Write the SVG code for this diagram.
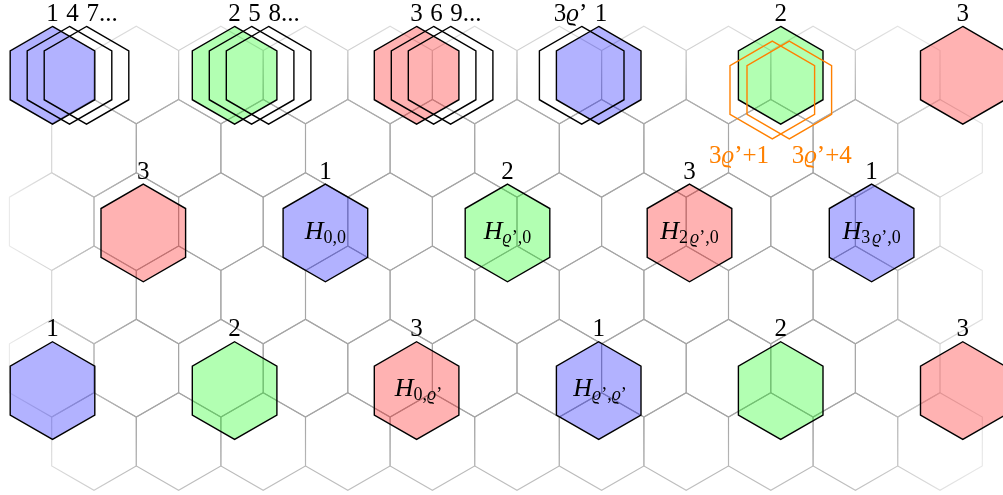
<svg xmlns="http://www.w3.org/2000/svg" xmlns:xlink="http://www.w3.org/1999/xlink" width="1003" height="495" viewBox="0 0 1003 495">
<style>
.grid{fill:none;stroke:#a6a6a6;stroke-width:1.1}
.hb{fill:#0000ff;fill-opacity:0.3;stroke:#000;stroke-width:1.4}
.hg{fill:#00ff00;fill-opacity:0.3;stroke:#000;stroke-width:1.4}
.hr{fill:#ff0000;fill-opacity:0.3;stroke:#000;stroke-width:1.4}
.ho{fill:none;stroke:#000;stroke-width:1.4}
.hor{fill:none;stroke:#ff8000;stroke-width:1.4}
text{font-family:"Liberation Serif","DejaVu Serif",serif;fill:#000}
.lbl{font-size:25px;text-anchor:middle}
.lst{font-size:25px;word-spacing:1.3px}
.org{font-size:25px;text-anchor:middle;fill:#ff8000}
.h{font-size:26px;text-anchor:middle}
.sub{font-size:18px}
.i{font-style:italic}
</style>
<defs>
<polygon id="hx" points="0,-48.85 42.3,-24.43 42.3,24.43 0,48.85 -42.3,24.43 -42.3,-24.43"/>
<linearGradient id="gH" gradientUnits="userSpaceOnUse" x1="0" y1="0" x2="1003" y2="0">
<stop offset="0" stop-color="#fff" stop-opacity="0.15"/>
<stop offset="0.01" stop-color="#fff" stop-opacity="0.25"/>
<stop offset="0.0518" stop-color="#fff" stop-opacity="0.5"/>
<stop offset="0.0937" stop-color="#fff" stop-opacity="0.8"/>
<stop offset="0.1396" stop-color="#fff" stop-opacity="1"/>
<stop offset="0.8495" stop-color="#fff" stop-opacity="1"/>
<stop offset="0.8953" stop-color="#fff" stop-opacity="0.75"/>
<stop offset="0.9372" stop-color="#fff" stop-opacity="0.5"/>
<stop offset="0.979" stop-color="#fff" stop-opacity="0.33"/>
<stop offset="1" stop-color="#fff" stop-opacity="0.25"/>
</linearGradient>
<linearGradient id="gV" gradientUnits="userSpaceOnUse" x1="0" y1="0" x2="0" y2="495">
<stop offset="0" stop-color="#fff" stop-opacity="0.3"/>
<stop offset="0.0545" stop-color="#fff" stop-opacity="0.4"/>
<stop offset="0.103" stop-color="#fff" stop-opacity="0.55"/>
<stop offset="0.202" stop-color="#fff" stop-opacity="0.9"/>
<stop offset="0.283" stop-color="#fff" stop-opacity="1"/>
<stop offset="0.848" stop-color="#fff" stop-opacity="1"/>
<stop offset="0.99" stop-color="#fff" stop-opacity="0.7"/>
<stop offset="1" stop-color="#fff" stop-opacity="0.7"/>
</linearGradient>
<mask id="mH" maskUnits="userSpaceOnUse" x="0" y="0" width="1003" height="495"><rect width="1003" height="495" fill="url(#gH)"/></mask>
<mask id="mV" maskUnits="userSpaceOnUse" x="0" y="0" width="1003" height="495"><rect width="1003" height="495" fill="url(#gV)"/></mask>
</defs>

<g id="grid" mask="url(#mV)"><g mask="url(#mH)" class="grid">
<use href="#hx" x="51.7" y="75"/><use href="#hx" x="136.3" y="75"/><use href="#hx" x="220.9" y="75"/><use href="#hx" x="305.5" y="75"/><use href="#hx" x="390.1" y="75"/><use href="#hx" x="474.7" y="75"/><use href="#hx" x="559.3" y="75"/><use href="#hx" x="643.9" y="75"/><use href="#hx" x="728.5" y="75"/><use href="#hx" x="813.1" y="75"/><use href="#hx" x="897.7" y="75"/>
<use href="#hx" x="94" y="148.3"/><use href="#hx" x="178.6" y="148.3"/><use href="#hx" x="263.2" y="148.3"/><use href="#hx" x="347.8" y="148.3"/><use href="#hx" x="432.4" y="148.3"/><use href="#hx" x="517" y="148.3"/><use href="#hx" x="601.6" y="148.3"/><use href="#hx" x="686.2" y="148.3"/><use href="#hx" x="770.8" y="148.3"/><use href="#hx" x="855.4" y="148.3"/><use href="#hx" x="940" y="148.3"/>
<use href="#hx" x="51.7" y="221.6"/><use href="#hx" x="136.3" y="221.6"/><use href="#hx" x="220.9" y="221.6"/><use href="#hx" x="305.5" y="221.6"/><use href="#hx" x="390.1" y="221.6"/><use href="#hx" x="474.7" y="221.6"/><use href="#hx" x="559.3" y="221.6"/><use href="#hx" x="643.9" y="221.6"/><use href="#hx" x="728.5" y="221.6"/><use href="#hx" x="813.1" y="221.6"/><use href="#hx" x="897.7" y="221.6"/>
<use href="#hx" x="94" y="294.9"/><use href="#hx" x="178.6" y="294.9"/><use href="#hx" x="263.2" y="294.9"/><use href="#hx" x="347.8" y="294.9"/><use href="#hx" x="432.4" y="294.9"/><use href="#hx" x="517" y="294.9"/><use href="#hx" x="601.6" y="294.9"/><use href="#hx" x="686.2" y="294.9"/><use href="#hx" x="770.8" y="294.9"/><use href="#hx" x="855.4" y="294.9"/><use href="#hx" x="940" y="294.9"/>
<use href="#hx" x="51.7" y="368.2"/><use href="#hx" x="136.3" y="368.2"/><use href="#hx" x="220.9" y="368.2"/><use href="#hx" x="305.5" y="368.2"/><use href="#hx" x="390.1" y="368.2"/><use href="#hx" x="474.7" y="368.2"/><use href="#hx" x="559.3" y="368.2"/><use href="#hx" x="643.9" y="368.2"/><use href="#hx" x="728.5" y="368.2"/><use href="#hx" x="813.1" y="368.2"/><use href="#hx" x="897.7" y="368.2"/>
<use href="#hx" x="94" y="441.5"/><use href="#hx" x="178.6" y="441.5"/><use href="#hx" x="263.2" y="441.5"/><use href="#hx" x="347.8" y="441.5"/><use href="#hx" x="432.4" y="441.5"/><use href="#hx" x="517" y="441.5"/><use href="#hx" x="601.6" y="441.5"/><use href="#hx" x="686.2" y="441.5"/><use href="#hx" x="770.8" y="441.5"/><use href="#hx" x="855.4" y="441.5"/><use href="#hx" x="940" y="441.5"/>
</g></g>

<g id="connectors"></g>

<!-- Row A -->
<g id="a1"><use href="#hx" class="hb" x="52.5" y="75.3"/><use href="#hx" class="ho" x="69.5" y="75.3"/><use href="#hx" class="ho" x="86.5" y="75.3"/><text class="lst" x="46.3" y="21">1 4 7...</text></g>
<g id="a2"><use href="#hx" class="hg" x="234.6" y="75.3"/><use href="#hx" class="ho" x="251.6" y="75.3"/><use href="#hx" class="ho" x="268.6" y="75.3"/><text class="lst" x="228.3" y="21">2 5 8...</text></g>
<g id="a3"><use href="#hx" class="hr" x="416.6" y="75.3"/><use href="#hx" class="ho" x="433.6" y="75.3"/><use href="#hx" class="ho" x="450.6" y="75.3"/><text class="lst" x="410.2" y="21">3 6 9...</text></g>
<g id="a4"><use href="#hx" class="hb" x="598.7" y="75.3"/><use href="#hx" class="ho" x="581.7" y="75.3"/><text class="lbl" x="570.5" y="21">3<tspan class="i">ϱ</tspan>’</text><text class="lbl" x="601" y="21">1</text></g>
<g id="a5"><use href="#hx" class="hg" x="780.7" y="75.3"/><use href="#hx" class="hor" x="772.3" y="90"/><use href="#hx" class="hor" x="789.3" y="90"/><text class="lbl" x="780.7" y="21">2</text><text class="org" x="739" y="163">3<tspan class="i">ϱ</tspan>’+1</text><text class="org" x="821.7" y="163">3<tspan class="i">ϱ</tspan>’+4</text></g>
<g id="a6"><use href="#hx" class="hr" x="962.8" y="75.3"/><text class="lbl" x="962.8" y="21">3</text></g>

<!-- Row B -->
<g id="b1"><use href="#hx" class="hr" x="143.3" y="232.95"/><text class="lbl" x="143.3" y="178.5">3</text></g>
<g id="b2"><use href="#hx" class="hb" x="325.4" y="232.95"/><text class="lbl" x="325.4" y="178.5">1</text><text class="h" x="325.4" y="239.3"><tspan class="i">H</tspan><tspan class="sub" dy="4">0,0</tspan></text></g>
<g id="b3"><use href="#hx" class="hg" x="507.5" y="232.95"/><text class="lbl" x="507.5" y="178.5">2</text><text class="h" x="507.5" y="239.3"><tspan class="i">H</tspan><tspan class="sub" dy="4"><tspan class="i">ϱ</tspan>’,0</tspan></text></g>
<g id="b4"><use href="#hx" class="hr" x="689.5" y="232.95"/><text class="lbl" x="689.5" y="178.5">3</text><text class="h" x="689.5" y="239.3"><tspan class="i">H</tspan><tspan class="sub" dy="4">2<tspan class="i" dx="2">ϱ</tspan>’,0</tspan></text></g>
<g id="b5"><use href="#hx" class="hb" x="871.6" y="232.95"/><text class="lbl" x="871.6" y="178.5">1</text><text class="h" x="871.6" y="239.3"><tspan class="i">H</tspan><tspan class="sub" dy="4">3<tspan class="i" dx="2">ϱ</tspan>’,0</tspan></text></g>

<!-- Row C -->
<g id="c1"><use href="#hx" class="hb" x="52.5" y="390.6"/><text class="lbl" x="52.5" y="336">1</text></g>
<g id="c2"><use href="#hx" class="hg" x="234.6" y="390.6"/><text class="lbl" x="234.6" y="336">2</text></g>
<g id="c3"><use href="#hx" class="hr" x="416.6" y="390.6"/><text class="lbl" x="416.6" y="336">3</text><text class="h" x="418.5" y="396.3"><tspan class="i">H</tspan><tspan class="sub" dy="4">0,<tspan class="i">ϱ</tspan>’</tspan></text></g>
<g id="c4"><use href="#hx" class="hb" x="598.7" y="390.6"/><text class="lbl" x="598.7" y="336">1</text><text class="h" x="600" y="396.3"><tspan class="i">H</tspan><tspan class="sub" dy="4"><tspan class="i">ϱ</tspan>’,<tspan class="i">ϱ</tspan>’</tspan></text></g>
<g id="c5"><use href="#hx" class="hg" x="780.7" y="390.6"/><text class="lbl" x="780.7" y="336">2</text></g>
<g id="c6"><use href="#hx" class="hr" x="962.8" y="390.6"/><text class="lbl" x="962.8" y="336">3</text></g>
</svg>
